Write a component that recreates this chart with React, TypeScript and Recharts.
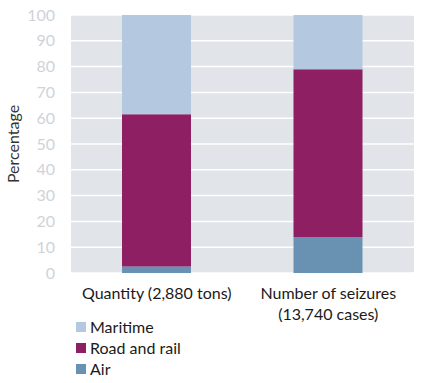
import { BarChart, Bar, XAxis, YAxis, CartesianGrid, Label } from "recharts";

const categories = ["Quantity (2,880 tons)", "Number of seizures\n(13,740 cases)"];
const air = [2.5, 14];
const roadAndRail = [59, 65];
const maritime = [38.5, 21];
const yTicks = [0, 10, 20, 30, 40, 50, 60, 70, 80, 90, 100];

const data = categories.map((name, i) => ({
  name,
  air: air[i],
  road: roadAndRail[i],
  maritime: maritime[i],
}));

const FONT = "Lato, 'Open Sans', sans-serif";

const series = [
  { key: "maritime", label: "Maritime", color: "#b4c8df" },
  { key: "road", label: "Road and rail", color: "#8e1f62" },
  { key: "air", label: "Air", color: "#6891b2" },
];

const XTick = (props: any) => {
  const { x, y, payload } = props;
  const lines = String(payload.value).split("\n");
  return (
    <text x={x} y={y} textAnchor="middle" fontFamily={FONT} fontSize={16} fill="#1a1a1a">
      {lines.map((l, i) => (
        <tspan key={i} x={x} dy={i === 0 ? 18 : 21}>
          {l}
        </tspan>
      ))}
    </text>
  );
};

const YLabel = (props: any) => {
  const { viewBox } = props;
  const cy = viewBox.y + viewBox.height / 2;
  const cx = 19;
  return (
    <text
      x={cx}
      y={cy}
      transform={`rotate(-90 ${cx} ${cy})`}
      textAnchor="middle"
      fontFamily={FONT}
      fontSize={16}
      fill="#333"
    >
      Percentage
    </text>
  );
};

export default function App() {
  return (
    <div style={{ position: "absolute", left: 0, top: 0, width: 423, height: 383, background: "#fff" }}>
      <BarChart
        width={423}
        height={383}
        data={data}
        margin={{ top: 15, right: 9, left: 0, bottom: 0 }}
        barSize={69}
      >
        <CartesianGrid vertical={false} fill="#e1e4e8" stroke="#ffffff" strokeWidth={1.5} />
        <XAxis
          dataKey="name"
          axisLine={false}
          tickLine={false}
          tick={<XTick />}
          height={110}
          interval={0}
        />
        <YAxis
          width={71}
          domain={[0, 100]}
          ticks={yTicks}
          interval={0}
          axisLine={false}
          tickLine={false}
          tickSize={0}
          tickMargin={16}
          tick={{ fill: "#cfd3d9", fontSize: 16, fontFamily: FONT }}
        >
          <Label content={<YLabel />} />
        </YAxis>
        <Bar dataKey="air" stackId="a" fill="#6891b2" isAnimationActive={false} />
        <Bar dataKey="road" stackId="a" fill="#8e1f62" isAnimationActive={false} />
        <Bar dataKey="maritime" stackId="a" fill="#b4c8df" isAnimationActive={false} />
      </BarChart>
      <div style={{ position: "absolute", left: 76, top: 316, fontFamily: FONT, fontSize: 16, color: "#1a1a1a" }}>
        {series.map((s) => (
          <div key={s.key} style={{ display: "flex", alignItems: "center", height: 21 }}>
            <span
              style={{ width: 10, height: 10, background: s.color, display: "inline-block", marginRight: 4 }}
            />
            {s.label}
          </div>
        ))}
      </div>
    </div>
  );
}
